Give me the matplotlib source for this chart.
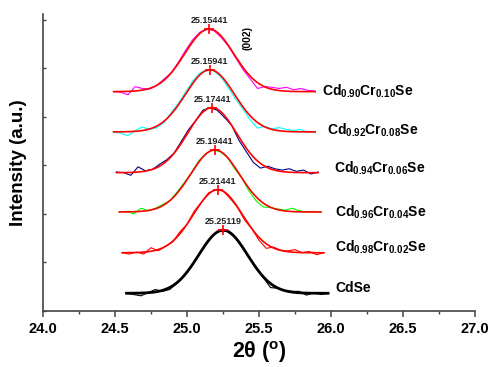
import numpy as np
import matplotlib
matplotlib.use('Agg')
import matplotlib.pyplot as plt

plt.rcParams['font.family'] = ['Liberation Sans', 'DejaVu Sans']
plt.rcParams['mathtext.fontset'] = 'custom'
plt.rcParams['mathtext.rm'] = 'Liberation Sans:bold'
plt.rcParams['mathtext.bf'] = 'Liberation Sans:bold'
plt.rcParams['mathtext.it'] = 'Liberation Sans:bold'

# samples, bottom to top
names = ['CdSe',
         r'Cd$_{0.98}$Cr$_{0.02}$Se',
         r'Cd$_{0.96}$Cr$_{0.04}$Se',
         r'Cd$_{0.94}$Cr$_{0.06}$Se',
         r'Cd$_{0.92}$Cr$_{0.08}$Se',
         r'Cd$_{0.90}$Cr$_{0.10}$Se']
colors = ['black', '#ff0000', '#00ff00', '#000080', '#00ffff', '#ff00ff']
fit_colors = ['black', '#ff0000', '#ff0000', '#ff0000', '#ff0000', '#ff0000']

# fitted (002) peak centres, degrees 2theta
centers = [25.25119, 25.21441, 25.19441, 25.17441, 25.15941, 25.15441]
# vertical offsets and peak heights (a.u.)
baselines = [0.365, 1.20, 2.04, 2.85, 3.69, 4.52]
heights = [1.30, 1.30, 1.28, 1.34, 1.28, 1.29]
widths = [0.17, 0.17, 0.17, 0.17, 0.17, 0.17]
# first scan point of each pattern, 0.05 deg step
starts = [24.58, 24.55, 24.53, 24.51, 24.49, 24.49]
step = 0.05

# normalised scan intensities
cdse = [0.00, -0.02, -0.04, 0.01, 0.06, 0.03, 0.06, 0.16, 0.29, 0.43, 0.60,
        0.78, 0.92, 0.99, 0.98, 0.89, 0.74, 0.57, 0.40, 0.25, 0.09, 0.08,
        0.04, 0.03, 0.03, -0.03, 0.01, -0.02, 0.00]
cr02 = [0.00, -0.02, 0.01, -0.02, 0.08, 0.03, 0.10, 0.17, 0.33, 0.45, 0.66,
        0.80, 0.95, 1.00, 0.98, 0.86, 0.72, 0.52, 0.38, 0.20, 0.07, 0.09,
        0.04, 0.03, 0.05, 0.00, 0.02, -0.03, 0.00]
cr04 = [0.00, 0.01, -0.03, 0.06, 0.02, 0.06, 0.12, 0.18, 0.32, 0.47, 0.63,
        0.82, 0.94, 1.00, 0.97, 0.88, 0.70, 0.55, 0.34, 0.18, 0.08, 0.07,
        0.05, 0.03, 0.06, 0.02, 0.00, 0.01, 0.00]
cr06 = [0.01, 0.00, -0.04, 0.09, 0.03, 0.05, 0.13, 0.20, 0.30, 0.48, 0.66,
        0.80, 0.96, 1.00, 0.96, 0.85, 0.73, 0.50, 0.33, 0.16, 0.07, 0.10,
        0.06, 0.04, 0.06, 0.02, 0.04, -0.02, 0.01]
cr08 = [0.00, -0.02, -0.06, 0.02, 0.08, 0.04, 0.07, 0.15, 0.31, 0.46, 0.64,
        0.82, 0.95, 1.00, 0.98, 0.87, 0.70, 0.52, 0.36, 0.19, 0.06, 0.09,
        0.05, 0.07, 0.04, 0.02, 0.04, -0.01, 0.01]
cr10 = [0.00, -0.01, -0.05, 0.08, 0.05, 0.04, 0.10, 0.20, 0.30, 0.47, 0.66,
        0.83, 0.95, 1.00, 0.97, 0.86, 0.72, 0.53, 0.35, 0.20, 0.05, 0.08,
        0.07, 0.05, 0.07, 0.03, 0.05, 0.02, 0.01]
scans = [cdse, cr02, cr04, cr06, cr08, cr10]

# sample name positions on the right
name_x = [26.03, 26.03, 26.03, 26.02, 25.97, 25.94]
name_y = [0.47, 1.32, 2.04, 2.95, 3.73, 4.52]

fig = plt.figure(figsize=(4.91, 3.67), dpi=100)
ax = fig.add_axes([0.0876, 0.1526, 0.8798, 0.8093])

for i in range(len(scans)):
    y = np.array(scans[i])
    x = starts[i] + step * np.arange(len(y))
    ax.plot(x, baselines[i] + heights[i] * y, color=colors[i], lw=0.8)

    # Gaussian fit of the (002) reflection
    xf = np.linspace(x[0], x[-1], 300)
    yf = baselines[i] + heights[i] * np.exp(-(xf - centers[i]) ** 2 / (2 * widths[i] ** 2))
    ax.plot(xf, yf, color=fit_colors[i], lw=2.0 if i == 0 else 1.2)

    top = baselines[i] + heights[i]
    ax.plot(centers[i], top, marker='+', color='#ff0000', ms=7, mew=1.2)
    ax.text(centers[i], top + 0.17, '%.5f' % centers[i], ha='center', va='center',
            fontsize=6.5, fontweight='bold', color='#222222')
    ax.text(name_x[i], name_y[i], names[i], ha='left', va='center',
            fontsize=10, fontweight='bold')

ax.text(25.42, 5.63, '(002)', rotation=90, ha='center', va='center',
        fontsize=7.5, fontweight='bold')

ax.set_xlim(24.0, 27.0)
ax.set_ylim(0, 6.12)
ax.set_xticks(np.arange(24.0, 27.01, 0.5))
ax.set_xticks(np.arange(24.25, 27.0, 0.5), minor=True)
ax.set_xticklabels(['%.1f' % v for v in np.arange(24.0, 27.01, 0.5)])
ax.set_yticks(np.arange(0, 6.5, 1))
ax.set_yticklabels([])

for side in ['top', 'right']:
    ax.spines[side].set_visible(False)
for side in ['left', 'bottom']:
    ax.spines[side].set_linewidth(1.2)
    ax.spines[side].set_color('#444444')

ax.tick_params(axis='x', which='major', direction='out', length=4, width=1.1,
               color='#444444', labelsize=10.5, pad=4)
ax.tick_params(axis='x', which='minor', direction='out', length=2.5, width=1.0,
               color='#444444')
ax.tick_params(axis='y', which='major', direction='in', length=2, width=1.0,
               color='#444444')
for lab in ax.get_xticklabels():
    lab.set_fontweight('bold')

ax.set_xlabel(r'2θ ($^{\rm o}$)', fontsize=15.5, fontweight='bold', labelpad=2)
ax.set_ylabel('Intensity (a.u.)', fontsize=13.5, fontweight='bold', labelpad=8)

fig.savefig('out.png', dpi=100)
